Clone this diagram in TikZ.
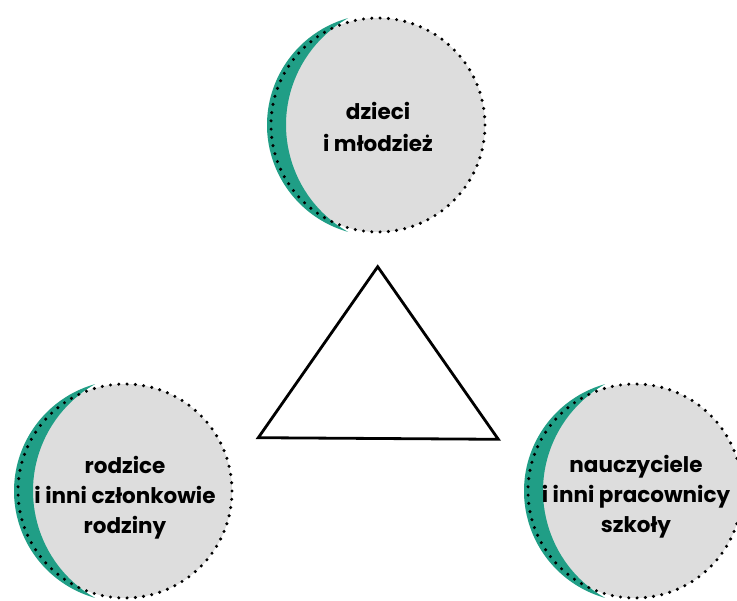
\documentclass[tikz,border=0pt]{standalone}
\usepackage{fontspec}
\setmainfont{Poppins}
\usetikzlibrary{calc}
\definecolor{tealband}{RGB}{32,158,134}
\definecolor{discgray}{RGB}{221,221,221}
\tikzset{
  dotring/.style={draw=black, line width=3.4pt, line cap=round, dash pattern=on 0pt off 8.3pt},
  lbl/.style={align=center, font=\fontsize{21.5}{30}\selectfont\bfseries, text=black},
  lbltop/.style={lbl, font=\fontsize{21.5}{32}\selectfont\bfseries},
  tri/.style={draw=black, line width=2.8pt, line join=miter},
  crescent/.style={fill=tealband}
}
\begin{document}
\begin{tikzpicture}[x=1pt,y=-1pt]
\useasboundingbox (0,0) rectangle (737,601);
\coordinate (ct) at (378,125);
\coordinate (cl) at (125,491);
\coordinate (cr) at (635,491);
\foreach \c in {ct,cl,cr}{
  \fill[discgray] (\c) circle (107pt);
  \path[crescent] ($(\c)+(105.68:111pt)$)
     arc[start angle=105.68, end angle=254.32, radius=111pt]
     arc[start angle=240.24, end angle=119.76, radius=123.1pt] -- cycle;
  \draw[dotring] (\c) circle (107pt);
}
\node[lbltop] (tt) at (378,127) {dzieci\\i młodzież};
\node[lbl] (tl) at (125,498) {rodzice\\i inni członkowie\\rodziny};
\node[lbl] (tr) at (636,497) {nauczyciele\\i inni pracownicy\\szkoły};
\coordinate (apex) at (377.7,266.7);
\coordinate (bl) at (258.3,437.7);
\coordinate (br) at (498.3,439.3);
\draw[tri] (apex) -- (bl) -- (br) -- cycle;
\end{tikzpicture}
\end{document}
